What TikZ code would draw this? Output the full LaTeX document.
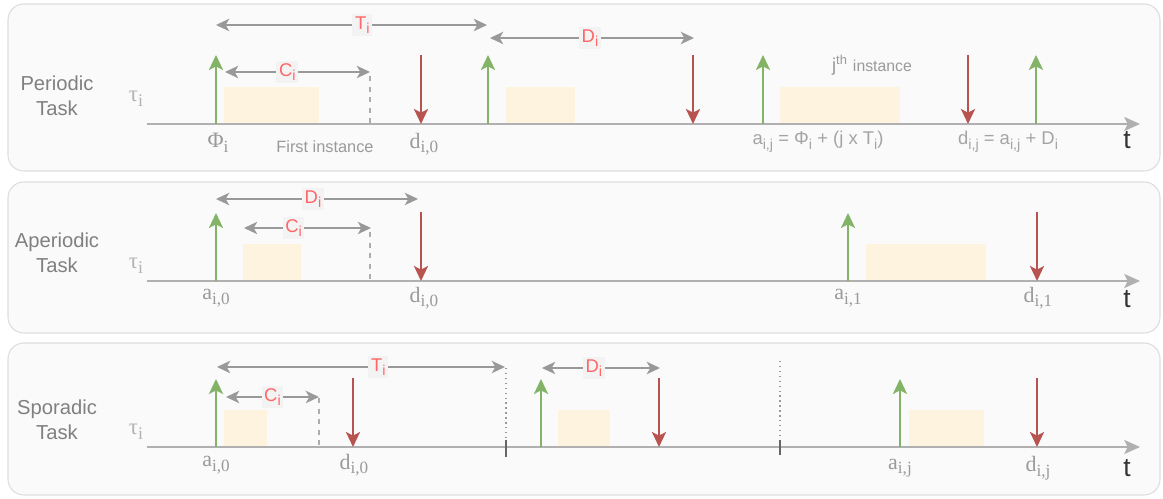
\documentclass[tikz,border=0pt]{standalone}
\usepackage{fontspec}
\setmainfont{Liberation Sans}
\newfontfamily\tmfont{Liberation Serif}
\usepackage{xcolor}
\usepackage{tikz}
\usetikzlibrary{arrows.meta}

\definecolor{panelbg}{HTML}{FAFAFA}
\definecolor{panelln}{HTML}{DDDDDD}
\definecolor{relgreen}{HTML}{82B366}
\definecolor{dlred}{HTML}{B85450}
\definecolor{dimgray}{HTML}{999999}
\definecolor{lblred}{HTML}{FF6666}
\definecolor{lblbg}{HTML}{F3F3F3}
\definecolor{jobfill}{HTML}{FDF3DE}
\definecolor{txtgray}{HTML}{808080}
\definecolor{evtgray}{HTML}{9A9A9A}
\definecolor{axgray}{HTML}{B0B0B0}

\newcommand{\lowix}[1]{\raisebox{-0.45ex}{\scalebox{0.78}{#1}}}

\tikzset{
  panel/.style={draw=panelln, fill=panelbg, rounded corners=9pt, line width=0.6pt},
  axis/.style={draw=axgray, line width=1.1pt, -{Stealth[length=9pt,width=8pt,inset=2pt]}},
  rel/.style={draw=relgreen, line width=1.2pt, -{Stealth[length=8.5pt,width=8pt,inset=2pt]}},
  dl/.style={draw=dlred, line width=1.2pt, -{Stealth[length=8.5pt,width=8pt,inset=2pt]}},
  dim/.style={draw=dimgray, line width=1.1pt, {Stealth[length=7.5pt,width=7pt,inset=2pt]}-{Stealth[length=7.5pt,width=7pt,inset=2pt]}},
  job/.style={fill=jobfill},
  lbl/.style={fill=lblbg, text=lblred, inner sep=1.5pt, font=\fontsize{10.5}{12}\selectfont},
  tasklbl/.style={text=txtgray, align=center, font=\fontsize{11.5}{14.5}\selectfont},
  tau/.style={text=evtgray!75, font=\tmfont\fontsize{13}{15}\selectfont},
  evt/.style={text=evtgray, font=\tmfont\fontsize{12.5}{14}\selectfont},
  note/.style={text=evtgray, font=\fontsize{9.3}{11}\selectfont},
  eqn/.style={text=evtgray!90, font=\fontsize{10.5}{12}\selectfont},
  tlbl/.style={text=black!80, font=\fontsize{15}{17}\selectfont},
  guide/.style={draw=dimgray!80, dashed, line width=0.6pt},
  sep/.style={draw=dimgray, dotted, line width=0.8pt},
  tick/.style={draw=black!60, line width=0.9pt},
}

\begin{document}
\begin{tikzpicture}[x=0.02cm, y=-0.02cm]
    \useasboundingbox (0,0) rectangle (1163,499);
    \draw[panel] (8,4) rectangle (1160,171);
    \draw[panel] (8,182) rectangle (1160,333);
    \draw[panel] (8,343) rectangle (1160,495);

    \node[tasklbl] (pname) at (57,96) {Periodic\\Task};
    \node[tau] (ptau) at (136,99) {τ\lowix{i}};
    \fill[job] (224,87) rectangle (319,124);
    \fill[job] (506,87) rectangle (575,124);
    \fill[job] (780,87) rectangle (900,124);
    \coordinate (pax0) at (147,124);
    \coordinate (pax1) at (1140,124);
    \draw[axis] (pax0) -- (pax1);
    \node[tlbl] (pt) at (1127,140) {t};
    \foreach \x [count=\k] in {216,488,763,1036} {
        \coordinate (pr\k) at (\x,124);
        \coordinate (prt\k) at (\x,55);
        \draw[rel] (pr\k) -- (prt\k);
    }
    \foreach \x [count=\k] in {421,693,968} {
        \coordinate (pd\k) at (\x,55);
        \coordinate (pdb\k) at (\x,124);
        \draw[dl] (pd\k) -- (pdb\k);
    }
    \coordinate (pc0) at (370,76);
    \coordinate (pc1) at (370,124);
    \draw[guide] (pc0) -- (pc1);
    \coordinate (pT0) at (216,25);
    \coordinate (pT1) at (487,25);
    \draw[dim] (pT0) -- node[lbl, pos=0.54] (pTl) {T\lowix{i}} (pT1);
    \coordinate (pC0) at (225,72);
    \coordinate (pC1) at (370,72);
    \draw[dim] (pC0) -- node[lbl, pos=0.43] (pCl) {C\lowix{i}} (pC1);
    \coordinate (pD0) at (490,38);
    \coordinate (pD1) at (694,38);
    \draw[dim] (pD0) -- node[lbl, pos=0.49] (pDl) {D\lowix{i}} (pD1);
    \node[evt] (pphi) at (218,143) {Φ\lowix{i}};
    \node[note] (pfirst) at (325,147) {First instance};
    \node[evt] (pd0l) at (424,144) {d\lowix{i,0}};
    \node[note] (pjth) at (872,65) {\fontsize{10.5}{12}\selectfont j\textsuperscript{th} {\fontsize{9}{10}\selectfont instance}};
    \node[eqn] (paij) at (818,142) {a\lowix{i,j} = Φ\lowix{i} + (j x T\lowix{i})};
    \node[eqn] (pdij) at (1008,142) {d\lowix{i,j} = a\lowix{i,j} + D\lowix{i}};

    \node[tasklbl] (aname) at (57,253) {Aperiodic\\Task};
    \node[tau] (atau) at (136,266) {τ\lowix{i}};
    \fill[job] (243,244) rectangle (301,281);
    \fill[job] (866,244) rectangle (986,281);
    \coordinate (aax0) at (147,281);
    \coordinate (aax1) at (1140,281);
    \draw[axis] (aax0) -- (aax1);
    \node[tlbl] (at) at (1127,299) {t};
    \foreach \x [count=\k] in {216,848} {
        \coordinate (ar\k) at (\x,281);
        \coordinate (art\k) at (\x,213);
        \draw[rel] (ar\k) -- (art\k);
    }
    \foreach \x [count=\k] in {421,1037} {
        \coordinate (ad\k) at (\x,212);
        \coordinate (adb\k) at (\x,281);
        \draw[dl] (ad\k) -- (adb\k);
    }
    \coordinate (ac0) at (370,232);
    \coordinate (ac1) at (370,281);
    \draw[guide] (ac0) -- (ac1);
    \coordinate (aD0) at (216,199);
    \coordinate (aD1) at (418,199);
    \draw[dim] (aD0) -- node[lbl, pos=0.48] (aDl) {D\lowix{i}} (aD1);
    \coordinate (aC0) at (244,228);
    \coordinate (aC1) at (371,228);
    \draw[dim] (aC0) -- node[lbl, pos=0.39] (aCl) {C\lowix{i}} (aC1);
    \node[evt] (aa0l) at (216,298) {a\lowix{i,0}};
    \node[evt] (ad0l) at (424,298) {d\lowix{i,0}};
    \node[evt] (aa1l) at (848,298) {a\lowix{i,1}};
    \node[evt] (ad1l) at (1038,298) {d\lowix{i,1}};

    \node[tasklbl] (sname) at (57,420) {Sporadic\\Task};
    \node[tau] (stau) at (136,432) {τ\lowix{i}};
    \fill[job] (224,410) rectangle (267,447);
    \fill[job] (558,410) rectangle (610,447);
    \fill[job] (909,410) rectangle (984,447);
    \coordinate (sax0) at (147,447);
    \coordinate (sax1) at (1140,447);
    \draw[axis] (sax0) -- (sax1);
    \node[tlbl] (st) at (1127,468) {t};
    \foreach \x [count=\k] in {216,541,900} {
        \coordinate (sr\k) at (\x,447);
        \coordinate (srt\k) at (\x,379);
        \draw[rel] (sr\k) -- (srt\k);
    }
    \foreach \x [count=\k] in {353,659,1037} {
        \coordinate (sd\k) at (\x,378);
        \coordinate (sdb\k) at (\x,447);
        \draw[dl] (sd\k) -- (sdb\k);
    }
    \coordinate (sc0) at (319,398);
    \coordinate (sc1) at (319,447);
    \draw[guide] (sc0) -- (sc1);
    \foreach \x/\t/\b [count=\k] in {506/368/457,780/361/455} {
        \coordinate (sg\k) at (\x,\t);
        \coordinate (sgm\k) at (\x,440);
        \coordinate (sgb\k) at (\x,\b);
        \draw[sep] (sg\k) -- (sgm\k);
        \draw[tick] (sgm\k) -- (sgb\k);
    }
    \coordinate (sT0) at (217,367);
    \coordinate (sT1) at (505,367);
    \draw[dim] (sT0) -- node[lbl, pos=0.56] (sTl) {T\lowix{i}} (sT1);
    \coordinate (sC0) at (226,397);
    \coordinate (sC1) at (319,397);
    \draw[dim] (sC0) -- node[lbl, pos=0.5] (sCl) {C\lowix{i}} (sC1);
    \coordinate (sD0) at (542,368);
    \coordinate (sD1) at (660,368);
    \draw[dim] (sD0) -- node[lbl, pos=0.44] (sDl) {D\lowix{i}} (sD1);
    \node[evt] (sa0l) at (216,465) {a\lowix{i,0}};
    \node[evt] (sd0l) at (354,465) {d\lowix{i,0}};
    \node[evt] (sajl) at (900,468) {a\lowix{i,j}};
    \node[evt] (sdjl) at (1038,468) {d\lowix{i,j}};
\end{tikzpicture}
\end{document}
